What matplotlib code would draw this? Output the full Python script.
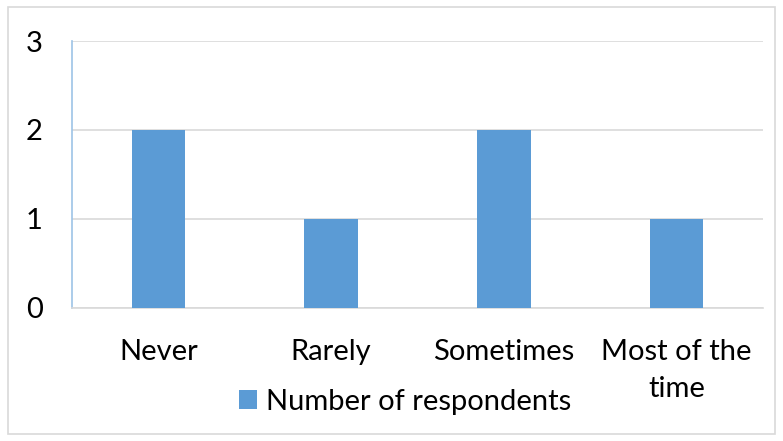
import matplotlib.pyplot as plt
from matplotlib.patches import Rectangle

# answer categories and respondent counts
categories = ['Never', 'Rarely', 'Sometimes', 'Most of the\ntime']
respondents = [2, 1, 2, 1]
y_ticks = [0, 1, 2, 3]

plt.rcParams['font.family'] = ['Lato', 'DejaVu Sans']

fig = plt.figure(figsize=(7.83, 4.41), dpi=100)
ax = fig.add_axes([72 / 783, 1 - 308 / 441, (763 - 72) / 783, (308 - 41) / 441])

# light grey frame around the whole chart
fig.patches.append(Rectangle((8 / 783, 7 / 441), 767 / 783, 427 / 441,
                             transform=fig.transFigure, fill=False,
                             edgecolor='#d9d9d9', linewidth=1.2))

x = range(len(categories))
ax.bar(x, respondents, width=0.31, color='#5b9bd5', label='Number of respondents', zorder=3)

ax.set_xlim(-0.5, len(categories) - 0.5)
ax.set_ylim(0, 3)
ax.set_yticks(y_ticks)
ax.set_xticks(list(x))
ax.set_xticklabels(categories, fontsize=21, linespacing=1.55)
ax.tick_params(axis='x', length=0, pad=22)
ax.tick_params(axis='y', length=0, pad=21, labelsize=21)
ax.grid(axis='y', color='#d9d9d9', linewidth=1.2, zorder=0)

for side in ['top', 'right']:
    ax.spines[side].set_visible(False)
ax.spines['bottom'].set_color('#d9d9d9')
ax.spines['bottom'].set_linewidth(1.2)
ax.spines['left'].set_color('#9dc3e6')
ax.spines['left'].set_linewidth(1.2)

fig.legend(loc='center', bbox_to_anchor=(405 / 783, 1 - 402 / 441), frameon=False,
           fontsize=21, handlelength=0.6, handleheight=0.6, handletextpad=0.3)

plt.savefig('out.png', dpi=100)
